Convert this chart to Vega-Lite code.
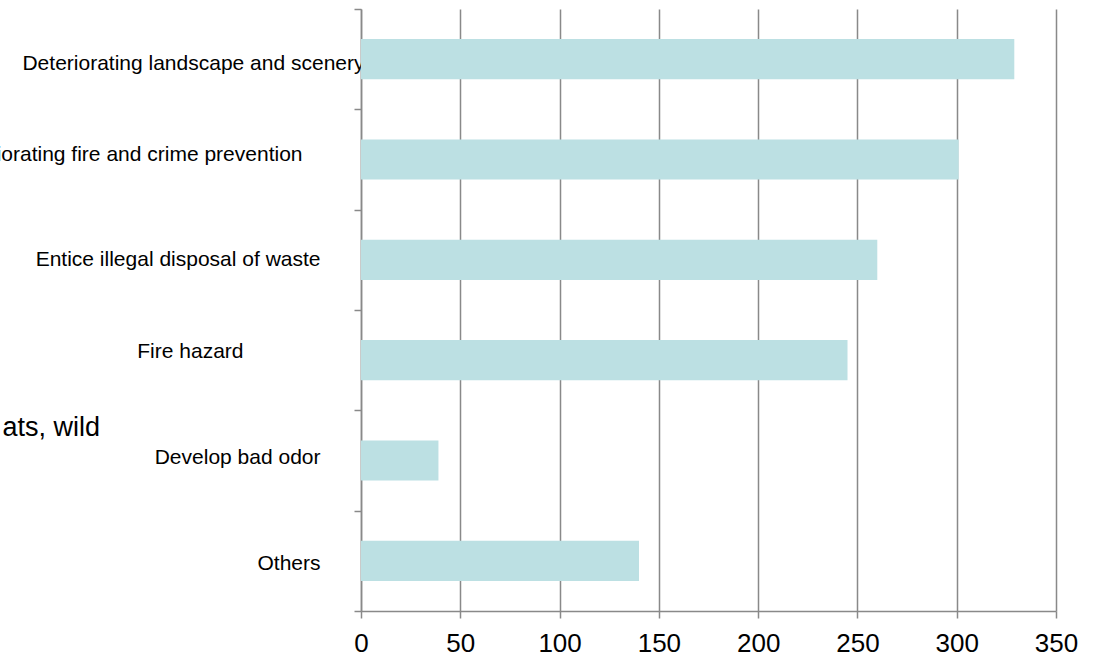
{
  "$schema": "https://vega.github.io/schema/vega-lite/v6.json",
  "width": 695,
  "height": 602,
  "autosize": {"type": "none"},
  "padding": {"left": 361, "top": 9, "right": 37, "bottom": 46},
  "background": "white",
  "config": {
    "view": {"stroke": null},
    "font": "Liberation Sans",
    "title": {"font": "Liberation Sans"}
  },
  "title": {
    "text": "ats, wild",
    "anchor": "start",
    "frame": "group",
    "orient": "top",
    "align": "right",
    "baseline": "alphabetic",
    "offset": 0,
    "dx": -261,
    "dy": 465,
    "fontSize": 27,
    "fontWeight": "normal",
    "color": "#000000"
  },
  "data": {
    "values": [
      {"reason": "Deteriorating landscape and scenery", "count": 329},
      {"reason": "Deteriorating fire and crime prevention", "count": 301},
      {"reason": "Entice illegal disposal of waste", "count": 260},
      {"reason": "Fire hazard", "count": 245},
      {"reason": "Develop bad odor", "count": 39},
      {"reason": "Others", "count": 140}
    ]
  },
  "mark": {"type": "bar", "color": "#BCE0E3", "height": {"band": 0.4}},
  "encoding": {
    "y": {
      "field": "reason",
      "type": "nominal",
      "sort": null,
      "scale": {"paddingInner": 0, "paddingOuter": 0},
      "axis": {
        "title": null,
        "domainColor": "#898989",
        "domainWidth": 1.5,
        "tickColor": "#898989",
        "tickWidth": 1.5,
        "tickSize": 7,
        "tickBand": "extent",
        "labelFont": "Liberation Sans",
        "labelFontSize": 21,
        "labelColor": "#000000",
        "labelLimit": 0,
        "labelAlign": "right",
        "labelBaseline": "middle",
        "labelPadding": {
          "condition": [
            {"test": "datum.value === 'Deteriorating landscape and scenery'", "value": -10},
            {"test": "datum.value === 'Deteriorating fire and crime prevention'", "value": 52},
            {"test": "datum.value === 'Fire hazard'", "value": 111}
          ],
          "value": 34
        },
        "labelOffset": {
          "condition": [
            {"test": "datum.value === 'Deteriorating landscape and scenery'", "value": 4},
            {"test": "datum.value === 'Deteriorating fire and crime prevention'", "value": -5},
            {"test": "datum.value === 'Fire hazard'", "value": -9},
            {"test": "datum.value === 'Develop bad odor'", "value": -3},
            {"test": "datum.value === 'Others'", "value": 3}
          ],
          "value": 0
        }
      }
    },
    "x": {
      "field": "count",
      "type": "quantitative",
      "scale": {"domain": [0, 350], "nice": false},
      "axis": {
        "title": null,
        "values": [0, 50, 100, 150, 200, 250, 300, 350],
        "grid": true,
        "gridColor": "#898989",
        "gridWidth": 1.5,
        "domainColor": "#898989",
        "domainWidth": 1.5,
        "tickColor": "#898989",
        "tickWidth": 1.5,
        "tickSize": 7,
        "labelFont": "Liberation Sans",
        "labelFontSize": 26,
        "labelColor": "#000000",
        "labelPadding": 12,
        "labelFlush": false,
        "labelOverlap": false
      }
    }
  }
}
